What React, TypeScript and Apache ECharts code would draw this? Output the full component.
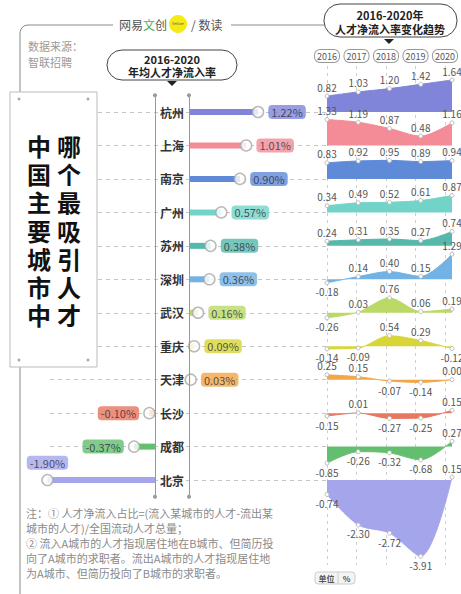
import React, { useEffect, useRef } from 'react';
import * as echarts from 'echarts';

const cities = ['杭州', '上海', '南京', '广州', '苏州', '深圳', '武汉', '重庆', '天津', '长沙', '成都', '北京'];
const avgRate = [1.22, 1.01, 0.9, 0.57, 0.38, 0.36, 0.16, 0.09, 0.03, -0.1, -0.37, -1.9];
const years = ['2016', '2017', '2018', '2019', '2020'];
const trendHangzhou = [0.82, 1.03, 1.2, 1.42, 1.64];
const trendShanghai = [1.33, 1.19, 0.87, 0.48, 1.16];
const trendNanjing = [0.83, 0.92, 0.95, 0.89, 0.94];
const trendGuangzhou = [0.34, 0.49, 0.52, 0.61, 0.87];
const trendSuzhou = [0.24, 0.31, 0.35, 0.27, 0.74];
const trendShenzhen = [-0.18, 0.14, 0.4, 0.15, 1.29];
const trendWuhan = [-0.26, 0.03, 0.76, 0.06, 0.19];
const trendChongqing = [-0.14, -0.09, 0.54, 0.29, -0.12];
const trendTianjin = [0.25, 0.15, -0.07, -0.14, 0.0];
const trendChangsha = [-0.15, 0.01, -0.27, -0.25, 0.15];
const trendChengdu = [-0.85, -0.26, -0.32, -0.68, 0.27];
const trendBeijing = [-0.74, -2.3, -2.72, -3.91, 0.15];
const trends = [
  trendHangzhou, trendShanghai, trendNanjing, trendGuangzhou, trendSuzhou, trendShenzhen,
  trendWuhan, trendChongqing, trendTianjin, trendChangsha, trendChengdu, trendBeijing,
];
const cityColors = [
  '#8085da', '#f38c96', '#5f8ad8', '#72d4c9', '#55b8ab', '#72b2e4',
  '#bad966', '#d8d536', '#f3a646', '#e9765f', '#64be70', '#a5a5ec',
];
const noteLines = [
  '注：① 人才净流入占比=(流入某城市的人才-流出某',
  '城市的人才)/全国流动人才总量；',
  '② 流入A城市的人才指现居住地在B城市、但简历投',
  '向了A城市的求职者。流出A城市的人才指现居住地',
  '为A城市、但简历投向了B城市的求职者。',
];

const FONT = '"Noto Sans CJK SC", "Noto Sans", sans-serif';

export default function App() {
  const ref = useRef<HTMLDivElement>(null);

  useEffect(() => {
    if (!ref.current) return;
    const chart = echarts.init(ref.current, undefined, { renderer: 'svg' });

    const rowTop = 112;
    const rowStep = 33.46;
    const pxPerUnitBar = 56.6;
    const barSpan = 2;
    const barW = pxPerUnitBar * barSpan;
    const pxPerUnitArea = 19.5;

    const grids: any[] = [];
    const xAxes: any[] = [];
    const yAxes: any[] = [];
    const series: any[] = [];

    // grid 0: positive bars
    grids.push({ left: 189, top: rowTop - rowStep / 2, width: barW, height: rowStep * 12 });
    xAxes.push({ gridIndex: 0, type: 'value', min: 0, max: barSpan, show: false });
    yAxes.push({
      gridIndex: 0, type: 'category', data: cities, inverse: true,
      axisLine: { show: true, lineStyle: { color: '#999', width: 1 }, symbol: ['circle', 'circle'], symbolSize: [4, 4] },
      axisTick: { show: false },
      axisLabel: { margin: 5, fontSize: 12, fontWeight: 'bold', color: '#333', fontFamily: FONT },
      z: 5,
    });
    // grid 1: negative bars
    grids.push({ left: 155 - barW, top: rowTop - rowStep / 2, width: barW, height: rowStep * 12 });
    xAxes.push({ gridIndex: 1, type: 'value', min: -barSpan, max: 0, show: false });
    yAxes.push({
      gridIndex: 1, type: 'category', data: cities, inverse: true, position: 'right',
      axisLine: { show: true, onZero: false, lineStyle: { color: '#999', width: 1 }, symbol: ['circle', 'circle'], symbolSize: [4, 4] },
      axisTick: { show: false }, axisLabel: { show: false },
      z: 5,
    });
    // grid 2: horizontal dashed guides
    grids.push({ left: 50, top: rowTop, width: 277, height: rowStep * 11 });
    xAxes.push({ gridIndex: 2, type: 'value', min: 0, max: 1, show: false });
    yAxes.push({
      gridIndex: 2, type: 'category', data: cities, inverse: true, boundaryGap: false,
      axisLine: { show: false }, axisTick: { show: false }, axisLabel: { show: false },
      splitLine: { show: true, lineStyle: { color: '#c4c4c4', type: [4, 4], width: 1 } },
    });
    // grid 3: year columns
    grids.push({ left: 327, top: 66, width: 125, height: 499 });
    xAxes.push({
      gridIndex: 3, type: 'category', data: years, boundaryGap: false, position: 'top',
      axisLine: { show: false }, axisTick: { show: false },
      axisLabel: {
        interval: 0, showMinLabel: true, showMaxLabel: true, hideOverlap: false,
        margin: 4, fontSize: 9, color: '#555', fontFamily: FONT,
        borderColor: '#999', borderWidth: 1, borderRadius: 5, padding: [2, 2, 1, 2], backgroundColor: '#fff',
      },
      splitLine: { show: true, interval: 0, lineStyle: { color: '#cfcfcf', type: [3, 4], width: 1 } },
    });
    yAxes.push({ gridIndex: 3, type: 'value', show: false });

    // bars
    const posBars = avgRate.map((v, i) => (v > 0 ? { value: v, itemStyle: { color: cityColors[i] } } : '-'));
    const negBars = avgRate.map((v, i) => (v < 0 ? { value: v, itemStyle: { color: cityColors[i] } } : '-'));
    series.push({ type: 'bar', xAxisIndex: 0, yAxisIndex: 0, data: posBars, barWidth: 6, z: 3 });
    series.push({ type: 'bar', xAxisIndex: 1, yAxisIndex: 1, data: negBars, barWidth: 6, z: 3 });

    const dotLabel = (i: number, pos: string) => ({
      show: true, position: pos, distance: 4,
      formatter: (p: any) => `${p.value[0].toFixed(2)}%`,
      backgroundColor: cityColors[i], borderRadius: 4, padding: [2, 3, 1, 3],
      fontSize: 11, color: '#2f2f3a', fontFamily: FONT,
    });
    const posDots: any[] = [];
    const negDots: any[] = [];
    avgRate.forEach((v, i) => {
      if (v > 0) posDots.push({ value: [v, i], label: dotLabel(i, 'right') });
      else negDots.push({ value: [v, i], label: dotLabel(i, i === cities.length - 1 ? 'top' : 'left') });
    });
    const dotStyle = { color: '#fff', borderColor: '#a8a8a8', borderWidth: 1.5 };
    series.push({ type: 'scatter', xAxisIndex: 0, yAxisIndex: 0, data: posDots, symbolSize: 11, itemStyle: dotStyle, z: 4 });
    series.push({ type: 'scatter', xAxisIndex: 1, yAxisIndex: 1, data: negDots, symbolSize: 11, itemStyle: dotStyle, z: 4 });
    // placeholders for guide grids
    series.push({ type: 'line', xAxisIndex: 2, yAxisIndex: 2, data: [], silent: true });
    series.push({ type: 'line', xAxisIndex: 3, yAxisIndex: 3, data: [], silent: true });

    // area bands
    const aMax = 2;
    const aMin = -4;
    cities.forEach((c, i) => {
      const rowY = rowTop + rowStep * i;
      const gi = grids.length;
      grids.push({ left: 327, width: 125, top: rowY - aMax * pxPerUnitArea, height: (aMax - aMin) * pxPerUnitArea });
      xAxes.push({ gridIndex: gi, type: 'category', data: years, boundaryGap: false, show: false });
      yAxes.push({ gridIndex: gi, type: 'value', min: aMin, max: aMax, show: false });
      series.push({
        type: 'line', name: c, xAxisIndex: gi, yAxisIndex: gi, smooth: 0.3,
        data: trends[i].map((v) => ({
          value: v,
          label: { position: v >= 0 ? 'top' : 'bottom' },
        })),
        symbol: 'circle', symbolSize: 4, showAllSymbol: true,
        itemStyle: { color: '#fff', borderColor: '#bbb', borderWidth: 1 },
        lineStyle: { color: cityColors[i], width: 1 },
        areaStyle: { color: cityColors[i], opacity: 1 },
        label: {
          show: true, distance: 1, fontSize: 10, lineHeight: 11, color: '#555', fontFamily: FONT,
          formatter: (p: any) => Number(p.value).toFixed(2),
        },
        z: 3 + i * 0.01,
      });
    });

    const g: any[] = [
      // frame lines
      { type: 'line', shape: { x1: 28, y1: 25, x2: 113, y2: 25 }, style: { stroke: '#8a8a8a', lineWidth: 1 } },
      { type: 'arc', shape: { cx: 28, cy: 33, r: 8, startAngle: Math.PI, endAngle: Math.PI * 1.5 }, style: { stroke: '#8a8a8a', lineWidth: 1, fill: null } },
      { type: 'line', shape: { x1: 20, y1: 33, x2: 20, y2: 594 }, style: { stroke: '#8a8a8a', lineWidth: 1 } },
      { type: 'line', shape: { x1: 231, y1: 25, x2: 324, y2: 25 }, style: { stroke: '#8a8a8a', lineWidth: 1 } },
      // title
      {
        type: 'text', x: 119, y: 24,
        style: {
          text: '{a|网易}{b|文}{a|创}', verticalAlign: 'middle', font: `12px ${FONT}`,
          rich: { a: { fill: '#555', fontSize: 12, fontFamily: FONT }, b: { fill: '#4caa5a', fontSize: 12, fontFamily: FONT } },
        },
      },
      { type: 'circle', shape: { cx: 178, cy: 24, r: 9 }, style: { fill: '#f5ea18' } },
      { type: 'text', x: 178, y: 24, style: { text: 'NetEase', fill: '#555', font: `3px ${FONT}`, align: 'center', verticalAlign: 'middle' } },
      { type: 'text', x: 191, y: 24, style: { text: '/ 数读', fill: '#555', font: `12px ${FONT}`, verticalAlign: 'middle' } },
      // data source
      { type: 'text', x: 28, y: 38, style: { text: '数据来源：\n智联招聘', fill: '#9a9a9a', font: `11px ${FONT}`, lineHeight: 16 } },
      // left pill
      { type: 'rect', shape: { x: 107, y: 50, width: 130, height: 30, r: 15 }, style: { fill: '#fff', stroke: '#444', lineWidth: 1 } },
      { type: 'text', x: 172, y: 59, style: { text: '2016-2020', fill: '#222', font: `bold 11px ${FONT}`, align: 'center', verticalAlign: 'middle' } },
      { type: 'text', x: 172, y: 72, style: { text: '年均人才净流入率', fill: '#222', font: `bold 11px ${FONT}`, align: 'center', verticalAlign: 'middle' } },
      { type: 'polygon', shape: { points: [[167, 81], [177, 81], [172, 86]] }, style: { fill: '#222' } },
      // right pill
      { type: 'rect', shape: { x: 324, y: 4, width: 133, height: 33, r: 16 }, style: { fill: '#fff', stroke: '#444', lineWidth: 1 } },
      { type: 'text', x: 390, y: 15, style: { text: '2016-2020年', fill: '#222', font: `bold 11px ${FONT}`, align: 'center', verticalAlign: 'middle' } },
      { type: 'text', x: 390, y: 29, style: { text: '人才净流入率变化趋势', fill: '#222', font: `bold 11px ${FONT}`, align: 'center', verticalAlign: 'middle' } },
      { type: 'polygon', shape: { points: [[384, 39], [394, 39], [389, 44]] }, style: { fill: '#222' } },
      // left box
      { type: 'rect', shape: { x: 10, y: 92, width: 87, height: 275 }, style: { fill: '#fff', stroke: '#bbb', lineWidth: 1 }, z: 10 },
      { type: 'circle', shape: { cx: 19, cy: 99, r: 1.5 }, style: { fill: '#aaa' }, z: 11 },
      { type: 'circle', shape: { cx: 88, cy: 99, r: 1.5 }, style: { fill: '#aaa' }, z: 11 },
      { type: 'circle', shape: { cx: 19, cy: 360, r: 1.5 }, style: { fill: '#aaa' }, z: 11 },
      { type: 'circle', shape: { cx: 88, cy: 360, r: 1.5 }, style: { fill: '#aaa' }, z: 11 },
      {
        type: 'text', x: 39, y: 131, z: 11,
        style: { text: '中\n国\n主\n要\n城\n市\n中', fill: '#111', font: `bold 24px ${FONT}`, align: 'center', verticalAlign: 'top', lineHeight: 28.3 },
      },
      {
        type: 'text', x: 69, y: 131, z: 11,
        style: { text: '哪\n个\n最\n吸\n引\n人\n才', fill: '#111', font: `bold 24px ${FONT}`, align: 'center', verticalAlign: 'top', lineHeight: 28.3 },
      },
      // notes
      {
        type: 'text', x: 26, y: 505,
        style: { text: noteLines.join('\n'), fill: '#8a8a8a', font: `11px ${FONT}`, lineHeight: 15.2 },
      },
      // unit box
      { type: 'rect', shape: { x: 315, y: 572, width: 40, height: 12, r: 3 }, style: { fill: '#f4f4f4', stroke: '#ccc', lineWidth: 1 } },
      { type: 'line', shape: { x1: 338, y1: 572, x2: 338, y2: 584 }, style: { stroke: '#ccc', lineWidth: 1 } },
      { type: 'text', x: 326.5, y: 578, style: { text: '单位', fill: '#555', font: `bold 8px ${FONT}`, align: 'center', verticalAlign: 'middle' } },
      { type: 'text', x: 346.5, y: 578, style: { text: '%', fill: '#555', font: `bold 8px ${FONT}`, align: 'center', verticalAlign: 'middle' } },
    ];

    chart.setOption({
      animation: false,
      backgroundColor: '#fff',
      textStyle: { fontFamily: FONT },
      grid: grids,
      xAxis: xAxes,
      yAxis: yAxes,
      series,
      graphic: { elements: g },
    });

    return () => chart.dispose();
  }, []);

  return <div ref={ref} style={{ position: 'fixed', left: 0, top: 0, width: 461, height: 594 }} />;
}
